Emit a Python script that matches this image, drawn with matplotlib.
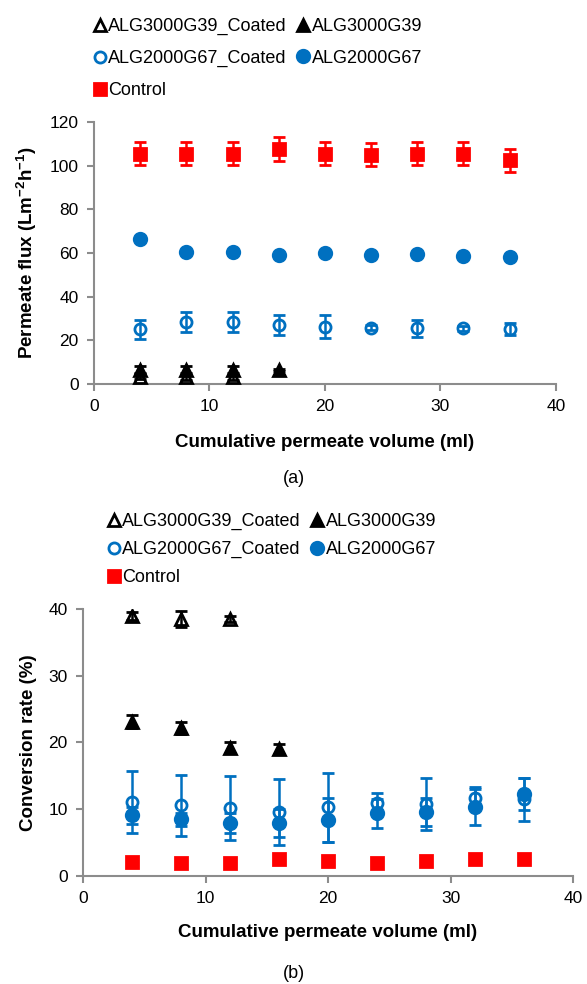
import matplotlib
matplotlib.use('Agg')
import matplotlib.pyplot as plt

plt.rcParams['font.family'] = ['Liberation Sans', 'DejaVu Sans']

# cumulative permeate volume (ml)
volume = [4, 8, 12, 16, 20, 24, 28, 32, 36]
volume_g39 = [4, 8, 12, 16]
volume_g39_coated = [4, 8, 12]

# (a) permeate flux (L m-2 h-1)
flux_control = [105.5, 105.5, 105.5, 107.5, 105.5, 105.0, 105.5, 105.5, 102.5]
flux_control_err = [5.2, 5.2, 5.2, 5.5, 5.2, 5.2, 5.2, 5.2, 5.3]
flux_g67 = [66.3, 60.5, 60.6, 59.1, 59.9, 59.1, 59.5, 58.6, 58.3]
flux_g67_err = [0.5, 0.5, 0.5, 0.5, 0.5, 0.5, 0.5, 0.5, 0.5]
flux_g67_coated = [25.0, 28.3, 28.3, 27.0, 26.2, 25.8, 25.5, 25.5, 25.2]
flux_g67_coated_err = [4.3, 4.5, 4.5, 4.4, 5.2, 1.2, 4.0, 1.2, 2.6]
flux_g39 = [6.6, 6.6, 6.6, 6.5]
flux_g39_err = [1.5, 1.5, 1.5, 0.5]
flux_g39_coated = [3.3, 3.0, 3.0]
flux_g39_coated_err = [1.2, 1.2, 1.2]

# (b) conversion rate (%)
conv_control = [2.1, 2.0, 2.0, 2.5, 2.3, 2.0, 2.2, 2.5, 2.5]
conv_g67 = [9.1, 8.5, 8.0, 7.9, 8.4, 9.4, 9.6, 10.3, 12.3]
conv_g67_err = [1.3, 1.0, 1.5, 2.1, 3.3, 2.2, 2.1, 2.7, 2.4]
conv_g67_coated = [11.1, 10.6, 10.2, 9.6, 10.3, 10.9, 10.8, 11.7, 11.5]
conv_g67_coated_err = [4.6, 4.6, 4.8, 4.9, 5.2, 1.6, 3.9, 1.6, 3.2]
conv_g39 = [23.1, 22.1, 19.2, 19.0]
conv_g39_err = [1.0, 0.9, 0.8, 0.8]
conv_g39_coated = [39.0, 38.5, 38.5]
conv_g39_coated_err = [0.6, 1.2, 0.5]

RED = '#FF0000'
BLUE = '#0070C0'
GREY = '#8C8C8C'


def draw(ax, data):
    handles = {}
    for key, x, y, err, color, marker, filled, ms in data:
        ax.errorbar(x, y, yerr=err, fmt=marker, color=color, ms=ms,
                    mfc=color if filled else 'none', mec=color,
                    mew=2.0, ecolor=color, elinewidth=1.8,
                    capsize=4.5, capthick=1.8, zorder=3)
        handles[key] = ax.plot([], [], marker, color=color, ms=ms,
                               mfc=color if filled else 'none', mec=color,
                               mew=2.0, linestyle='none')[0]
    ax.set_xlim(0, 40)
    ax.set_xticks([0, 10, 20, 30, 40])
    for s in ['top', 'right']:
        ax.spines[s].set_visible(False)
    for s in ['left', 'bottom']:
        ax.spines[s].set_color(GREY)
        ax.spines[s].set_linewidth(1.5)
    ax.tick_params(direction='out', length=5, width=1.5, color=GREY,
                   labelsize=12.5, pad=6)
    return handles


fig = plt.figure(figsize=(5.87, 9.84), dpi=100)

labels = ['ALG3000G39_Coated', 'ALG2000G67_Coated', 'Control',
          'ALG3000G39', 'ALG2000G67']
order = ['g39c', 'g67c', 'ctrl', 'g39', 'g67']

# ---- (a) ----
ax1 = fig.add_axes([0.160, 0.6098, 0.787, 0.2663])
h1 = draw(ax1, [
    ('ctrl', volume, flux_control, flux_control_err, RED, 's', True, 8),
    ('g67', volume, flux_g67, flux_g67_err, BLUE, 'o', True, 9),
    ('g67c', volume, flux_g67_coated, flux_g67_coated_err, BLUE, 'o', False, 8),
    ('g39', volume_g39, flux_g39, flux_g39_err, 'black', '^', True, 8),
    ('g39c', volume_g39_coated, flux_g39_coated, flux_g39_coated_err, 'black', '^', False, 8),
])
ax1.set_ylim(0, 120)
ax1.set_yticks(range(0, 121, 20))
ax1.set_xlabel('Cumulative permeate volume (ml)', fontsize=13.5,
               fontweight='bold', labelpad=14)
ax1.set_ylabel('Permeate flux (Lm$^{\\mathregular{-2}}$h$^{\\mathregular{-1}}$)',
               fontsize=13.5, fontweight='bold', labelpad=8)
fig.legend([h1[k] for k in order], labels, ncol=2, frameon=False,
           loc='upper left', bbox_to_anchor=(95 / 587, 1 - 18 / 984),
           fontsize=13, handlelength=0.5, handletextpad=0.2,
           columnspacing=0.7, labelspacing=0.82, borderpad=0,
           borderaxespad=0)
fig.text(0.5, 1 - 478 / 984, '(a)', ha='center', va='center', fontsize=13)

# ---- (b) ----
ax2 = fig.add_axes([0.1414, 0.1098, 0.8348, 0.2713])
h2 = draw(ax2, [
    ('ctrl', volume, conv_control, None, RED, 's', True, 8),
    ('g67', volume, conv_g67, conv_g67_err, BLUE, 'o', True, 9),
    ('g67c', volume, conv_g67_coated, conv_g67_coated_err, BLUE, 'o', False, 8),
    ('g39', volume_g39, conv_g39, conv_g39_err, 'black', '^', True, 8),
    ('g39c', volume_g39_coated, conv_g39_coated, conv_g39_coated_err, 'black', '^', False, 8),
])
ax2.set_ylim(0, 40)
ax2.set_yticks(range(0, 41, 10))
ax2.set_xlabel('Cumulative permeate volume (ml)', fontsize=13.5,
               fontweight='bold', labelpad=13)
ax2.set_ylabel('Conversion rate (%)', fontsize=13.5, fontweight='bold',
               labelpad=8)
fig.legend([h2[k] for k in order], labels, ncol=2, frameon=False,
           loc='upper left', bbox_to_anchor=(109 / 587, 1 - 513 / 984),
           fontsize=13, handlelength=0.5, handletextpad=0.2,
           columnspacing=0.7, labelspacing=0.6, borderpad=0,
           borderaxespad=0)
fig.text(0.5, 1 - 973 / 984, '(b)', ha='center', va='center', fontsize=13)

fig.savefig('out.png', dpi=100)
